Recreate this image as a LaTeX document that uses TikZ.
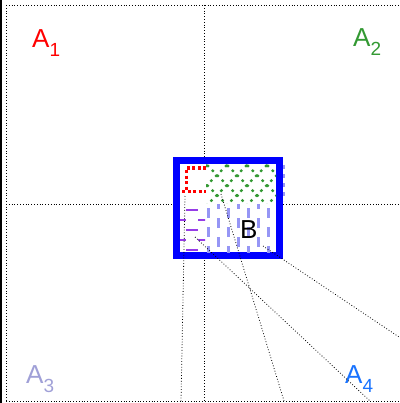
\documentclass[tikz,border=0pt]{standalone}
\usepackage{fontspec}
\setmainfont{Liberation Sans}
\usepackage{tikz}
\definecolor{agreen}{RGB}{51,153,51}
\definecolor{alav}{RGB}{160,160,215}
\definecolor{ablue}{RGB}{25,115,255}
\definecolor{lblue}{RGB}{150,150,245}
\definecolor{pviolet}{RGB}{150,60,230}
\newcommand{\subs}[1]{\raisebox{-9pt}{\fontsize{19}{19}\selectfont #1}}
\tikzset{
	lab/.style={anchor=base west,inner sep=0pt,font=\fontsize{26}{28}\selectfont},
	guide/.style={dotted,line width=0.8pt},
	dots/.style={line width=2.2pt,dash pattern=on 2.5pt off 4.5pt}
}

\begin{document}
\begin{tikzpicture}[x=1pt,y=-1pt]
			\useasboundingbox (0,0) rectangle (399,403);
			\fill (0,0) rectangle (2,403);
			\draw[guide] (6,5) -- (399,5);
			\draw[guide] (6,5) -- (6,401);
			\draw[guide] (6,401) -- (399,401);
			\draw[guide] (204,5) -- (204,401);
			\draw[guide] (6,204) -- (399,204);
			\node[lab,red] (a1) at (32,48) {A\subs{1}};
			\node[lab,agreen] (a2) at (353,47) {A\subs{2}};
			\node[lab,alav] (a3) at (26,383) {A\subs{3}};
			\node[lab,ablue] (a4) at (345,383) {A\subs{4}};
			\node[draw=blue,line width=7pt,fill=white,minimum width=103.5pt,minimum height=95pt,inner sep=0pt] (box) at (227.75,208) {};
			\begin{scope}
				\clip (206,164) rectangle (276,203);
				\foreach \x in {167,187,...,307}{
					\draw[agreen,dots] (\x,165) -- ++(40,40);
					\draw[agreen,dots] (\x,165) -- ++(-40,40);
				}
			\end{scope}
			\draw[red,line width=3pt,dash pattern=on 3pt off 2.5pt] (206,168) -- (186,168) -- (186,191);
			\draw[red,line width=3pt,dash pattern=on 3pt off 2.5pt] (182,191) -- (206,191);
			\begin{scope}
				\clip (180,205) rectangle (205,252);
				\foreach \y in {210,230,250}{
					\draw[pviolet,line width=2.8pt,dash pattern=on 12pt off 12pt] (186,\y) -- (230,\y);
				}
				\foreach \y in {220,240}{
					\draw[pviolet,line width=2.8pt,dash pattern=on 12pt off 12pt] (174,\y) -- (230,\y);
				}
			\end{scope}
			\begin{scope}
				\clip (205,204) rectangle (276,252);
				\foreach \x in {208,228,...,268}{
					\draw[lblue,line width=3pt,dash pattern=on 10pt off 9pt] (\x,208) -- (\x,260);
				}
				\foreach \x in {218,238,...,278}{
					\draw[lblue,line width=3pt,dash pattern=on 10pt off 9pt] (\x,199) -- (\x,260);
				}
			\end{scope}
			\draw[lblue,line width=1.5pt,dash pattern=on 4pt off 5pt] (284,165) -- (284,201);
			\node[lab] (b) at (240,238) {B};
			\coordinate (p1) at (185,196);
			\coordinate (p2) at (221,194);
			\coordinate (p3) at (195,237);
			\coordinate (p4) at (263,246);
			\coordinate (q1) at (181,401);
			\coordinate (q2) at (284,401);
			\coordinate (q3) at (370,401);
			\coordinate (q4) at (399,337);
			\draw[guide] (p1) -- (q1);
			\draw[guide] (p2) -- (q2);
			\draw[guide] (p3) -- (q3);
			\draw[guide] (p4) -- (q4);
		\end{tikzpicture}
\end{document}
